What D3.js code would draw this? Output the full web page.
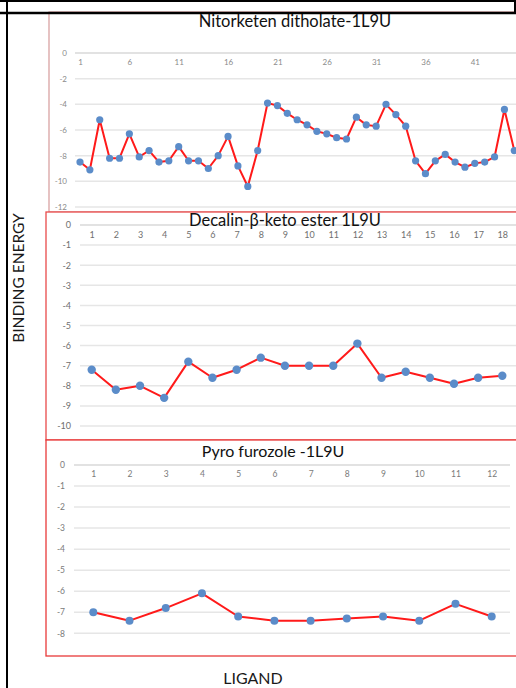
<!DOCTYPE html>
<html>
<head>
<meta charset="utf-8">
<script src="https://cdn.jsdelivr.net/npm/d3@7"></script>
<style>
  body { margin: 0; background: #fff; }
  svg { display: block; }
</style>
</head>
<body>
<svg id="chart" width="516" height="688"></svg>
<script>
// ---- data ----
const nitorketenLigands = d3.range(1, 46);
const nitorketenEnergy = [
  -8.5, -9.1, -5.2, -8.2, -8.2, -6.3, -8.1, -7.6, -8.5, -8.4,
  -7.3, -8.4, -8.4, -9.0, -8.0, -6.5, -8.8, -10.4, -7.6, -3.9,
  -4.1, -4.7, -5.2, -5.6, -6.1, -6.3, -6.6, -6.7, -5.0, -5.6,
  -5.7, -4.0, -4.8, -5.7, -8.4, -9.4, -8.4, -7.9, -8.5, -8.9,
  -8.6, -8.5, -8.1, -4.4, -7.6
];
const nitorketenXTicks = [1, 6, 11, 16, 21, 26, 31, 36, 41];
const nitorketenYTicks = [0, -2, -4, -6, -8, -10, -12];

const decalinLigands = d3.range(1, 19);
const decalinEnergy = [
  -7.2, -8.2, -8.0, -8.6, -6.8, -7.6, -7.2, -6.6, -7.0,
  -7.0, -7.0, -5.9, -7.6, -7.3, -7.6, -7.9, -7.6, -7.5
];
const decalinXTicks = d3.range(1, 19);
const decalinYTicks = [0, -1, -2, -3, -4, -5, -6, -7, -8, -9, -10];

const pyroLigands = d3.range(1, 13);
const pyroEnergy = [-7.0, -7.4, -6.8, -6.1, -7.2, -7.4, -7.4, -7.3, -7.2, -7.4, -6.6, -7.2];
const pyroXTicks = d3.range(1, 13);
const pyroYTicks = [0, -1, -2, -3, -4, -5, -6, -7, -8];

const titles = ["Nitorketen ditholate-1L9U", "Decalin-\u03B2-keto ester 1L9U", "Pyro furozole -1L9U"];
const yAxisTitle = "BINDING ENERGY";
const xAxisTitle = "LIGAND";

// ---- layout ----
const svg = d3.select("#chart");
const W = 516, H = 688;

const panels = [
  {
    title: titles[0], cats: nitorketenLigands, values: nitorketenEnergy,
    xTicks: nitorketenXTicks, yTicks: nitorketenYTicks, yMin: -12,
    box: { x0: 49, y0: 12, x1: 530, y1: 212 }, boxColor: "#d9a3a3",
    x: [80, 514.3], y: [53, 207], gridX: [75, 516],
    titleX: 295, titleY: 27, titleSize: 16.5,
    tickSize: 8, tickColor: "#8a8a8a", yLabelX: 67, xLabelDy: 14, r: 3.6
  },
  {
    title: titles[1], cats: decalinLigands, values: decalinEnergy,
    xTicks: decalinXTicks, yTicks: decalinYTicks, yMin: -10,
    box: { x0: 46, y0: 212, x1: 530, y1: 440 }, boxColor: "#e84a4a",
    x: [91.7, 502.3], y: [225, 426], gridX: [80, 516],
    titleX: 285, titleY: 226, titleSize: 16.5,
    tickSize: 9, tickColor: "#6f6f6f", yLabelX: 71, xLabelDy: 15, r: 4.2
  },
  {
    title: titles[2], cats: pyroLigands, values: pyroEnergy,
    xTicks: pyroXTicks, yTicks: pyroYTicks, yMin: -8,
    box: { x0: 46, y0: 440, x1: 530, y1: 656 }, boxColor: "#e83a3a",
    x: [93.3, 491.7], y: [465, 633.3], gridX: [74, 510],
    titleX: 273, titleY: 457, titleSize: 16,
    tickSize: 8.5, tickColor: "#7a7a7a", yLabelX: 65, xLabelDy: 14, r: 4
  }
];

const font = "Lato, 'Open Sans', sans-serif";

panels.forEach(p => {
  const g = svg.append("g");
  const xScale = d3.scalePoint().domain(p.cats).range(p.x);
  const yScale = d3.scaleLinear().domain([0, p.yMin]).range(p.y);

  // panel frame
  g.append("rect")
    .attr("x", p.box.x0).attr("y", p.box.y0)
    .attr("width", p.box.x1 - p.box.x0).attr("height", p.box.y1 - p.box.y0)
    .attr("fill", "#fff").attr("stroke", p.boxColor).attr("stroke-width", 1.3);

  // horizontal gridlines
  g.append("g").selectAll("line").data(p.yTicks).join("line")
    .attr("x1", p.gridX[0]).attr("x2", p.gridX[1])
    .attr("y1", d => yScale(d)).attr("y2", d => yScale(d))
    .attr("stroke", d => d === 0 ? "#d9d9d9" : "#e6e6e6")
    .attr("stroke-width", 1.5);

  // value axis labels
  const yAxis = d3.axisLeft(yScale).tickValues(p.yTicks).tickSize(0).tickPadding(0)
    .tickFormat(d => d === 0 ? "0" : "-" + Math.abs(d));
  const yg = g.append("g").attr("transform", `translate(${p.yLabelX},0)`).call(yAxis);
  yg.select(".domain").remove();
  yg.selectAll("text").attr("fill", p.tickColor).style("font-family", font)
    .style("font-size", p.tickSize + "px");

  // category labels, hanging below the zero line
  const xAxis = d3.axisBottom(xScale).tickValues(p.xTicks).tickSize(0).tickPadding(0);
  const xg = g.append("g").attr("transform", `translate(0,${yScale(0) + p.xLabelDy - 8})`).call(xAxis);
  xg.select(".domain").remove();
  xg.selectAll("text").attr("fill", p.tickColor).style("font-family", font)
    .style("font-size", p.tickSize + "px");

  // title
  g.append("text").attr("x", p.titleX).attr("y", p.titleY)
    .attr("text-anchor", "middle").attr("fill", "#111")
    .style("font-family", font).style("font-size", p.titleSize + "px")
    .text(p.title);

  // series line
  const line = d3.line().x((d, i) => xScale(p.cats[i])).y(d => yScale(d));
  g.append("path").datum(p.values).attr("d", line)
    .attr("fill", "none").attr("stroke", "#ff1a1a").attr("stroke-width", 2)
    .attr("stroke-linejoin", "round");

  // markers
  g.append("g").selectAll("circle").data(p.values).join("circle")
    .attr("cx", (d, i) => xScale(p.cats[i])).attr("cy", d => yScale(d))
    .attr("r", p.r).attr("fill", "#5b8cc9");
});

// outer frame
svg.append("line").attr("x1", 0).attr("x2", W).attr("y1", 1).attr("y2", 1)
  .attr("stroke", "#000").attr("stroke-width", 2);
svg.append("line").attr("x1", 0).attr("x2", W).attr("y1", 13).attr("y2", 13)
  .attr("stroke", "#000").attr("stroke-width", 2.5);
svg.append("line").attr("x1", 7).attr("x2", 7).attr("y1", 0).attr("y2", H)
  .attr("stroke", "#000").attr("stroke-width", 2);
svg.append("line").attr("x1", 515).attr("x2", 515).attr("y1", 0).attr("y2", 13)
  .attr("stroke", "#000").attr("stroke-width", 2);

// axis titles
svg.append("text")
  .attr("transform", "translate(24,278) rotate(-90)")
  .attr("text-anchor", "middle").attr("fill", "#1a1a1a")
  .style("font-family", font).style("font-size", "15.5px")
  .text(yAxisTitle);

svg.append("text")
  .attr("x", 253).attr("y", 684)
  .attr("text-anchor", "middle").attr("fill", "#1a1a1a")
  .style("font-family", font).style("font-size", "16px")
  .text(xAxisTitle);
</script>
</body>
</html>
